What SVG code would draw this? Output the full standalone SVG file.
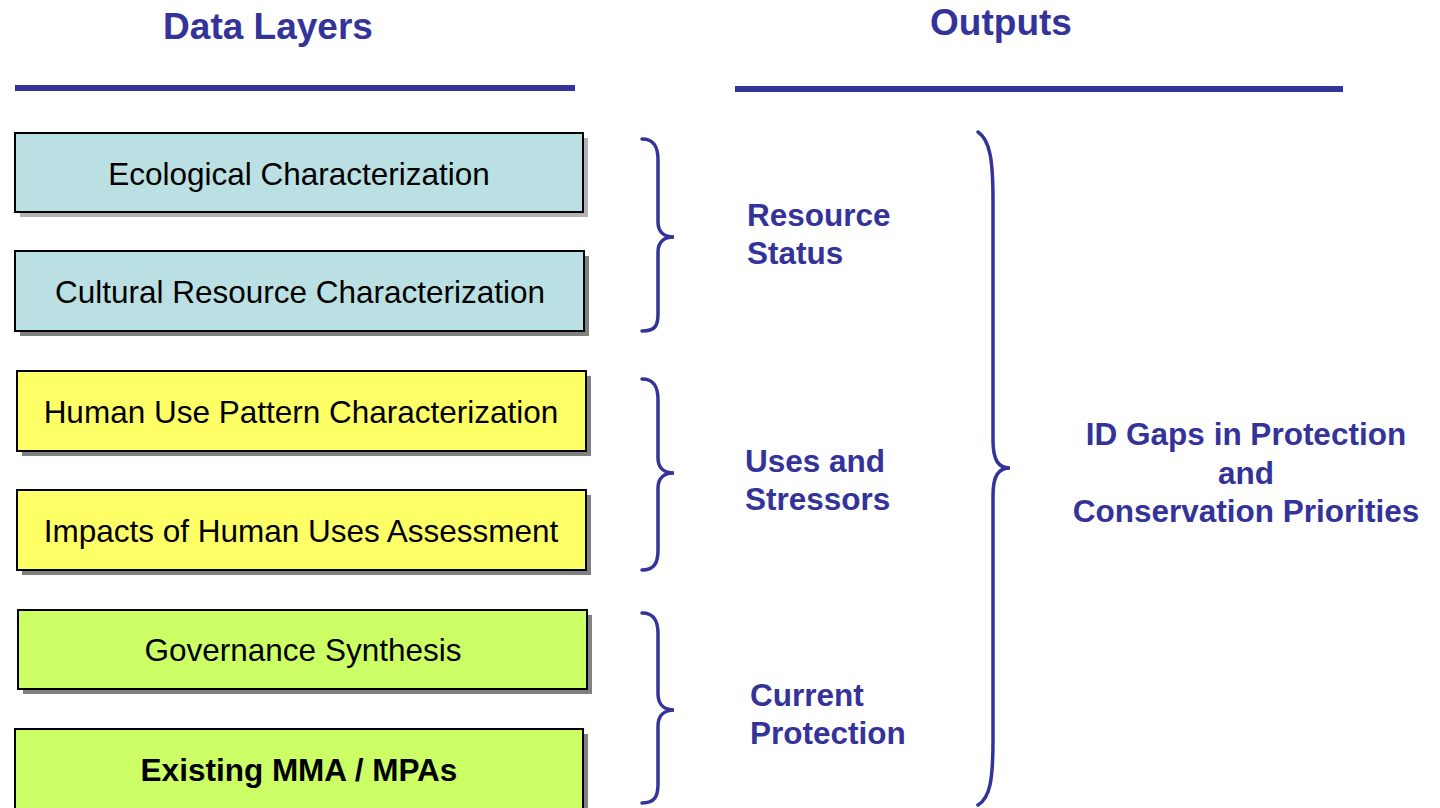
<svg xmlns="http://www.w3.org/2000/svg" width="1440" height="808" viewBox="0 0 1440 808">
<defs>
<style>
.hdr{font-family:"Liberation Sans",Arial,sans-serif;font-weight:bold;font-size:37px;fill:#333399}
.lbl{font-family:"Liberation Sans",Arial,sans-serif;font-weight:bold;font-size:31.5px;fill:#333399}
.bt{font-family:"Liberation Sans",Arial,sans-serif;font-size:31.5px;fill:#000;text-anchor:middle}
.box{stroke:#000;stroke-width:2}
.sh{fill:#808080}
.br{fill:none;stroke:#333399;stroke-width:3.5;stroke-linecap:round}
.teal{fill:#BAE0E3}
.yel{fill:#FFFF66}
.grn{fill:#CCFF66}
</style>
</defs>
<rect width="1440" height="808" fill="#fff"/>
<text class="hdr" x="268" y="39" text-anchor="middle">Data Layers</text>
<text class="hdr" x="1001" y="35" text-anchor="middle">Outputs</text>
<rect x="15" y="85" width="560" height="6" fill="#333399"/>
<rect x="735" y="86" width="608" height="6" fill="#333399"/>

<g id="n1"><rect class="sh" x="20" y="138" width="568" height="79" fill-opacity="0.6"/><rect class="box teal" x="15" y="133" width="568" height="79"/><text class="bt" x="299" y="185">Ecological Characterization</text></g>
<g id="n2"><rect class="sh" x="20" y="256" width="569" height="80"/><rect class="box teal" x="15" y="251" width="569" height="80"/><text class="bt" x="300" y="303">Cultural Resource Characterization</text></g>
<g id="n3"><rect class="sh" x="22" y="376" width="569" height="80"/><rect class="box yel" x="17" y="371" width="569" height="80"/><text class="bt" x="301" y="423">Human Use Pattern Characterization</text></g>
<g id="n4"><rect class="sh" x="22" y="495" width="569" height="80"/><rect class="box yel" x="17" y="490" width="569" height="80"/><text class="bt" x="301" y="542">Impacts of Human Uses Assessment</text></g>
<g id="n5"><rect class="sh" x="23" y="615" width="569" height="79"/><rect class="box grn" x="18" y="610" width="569" height="79"/><text class="bt" x="303" y="661">Governance Synthesis</text></g>
<g id="n6"><rect class="sh" x="20" y="734" width="568" height="90"/><rect class="box grn" x="15" y="729" width="568" height="90"/><text class="bt" x="299" y="781" font-weight="bold">Existing MMA / MPAs</text></g>

<g id="connectors">
<path class="br" d="M642,139 C655,139 658,148 658,160 L658,222 C658,232 664,237 674,237 C664,237 658,242 658,252 L658,314 C658,326 655,331 642,331"/>
<path class="br" d="M642,379 C655,379 658,388 658,400 L658,458 C658,468 664,473 674,473 C664,473 658,478 658,488 L658,550 C658,562 655,570 642,570"/>
<path class="br" d="M642,613 C655,613 658,622 658,634 L658,694 C658,704 664,710 674,710 C664,710 658,716 658,726 L658,784 C658,796 655,803 642,803"/>
<path class="br" d="M978,132 C990,140 993,160 993,200 L993,440 C993,460 998,468 1010,468 C998,468 993,476 993,496 L993,740 C993,780 990,798 978,805"/>
</g>

<g id="out1"><text class="lbl" x="747" y="226">Resource</text><text class="lbl" x="747" y="264">Status</text></g>
<g id="out2"><text class="lbl" x="745" y="472">Uses and</text><text class="lbl" x="745" y="510">Stressors</text></g>
<g id="out3"><text class="lbl" x="750" y="706">Current</text><text class="lbl" x="750" y="744">Protection</text></g>
<g id="out4" text-anchor="middle"><text class="lbl" x="1246" y="445">ID Gaps in Protection</text><text class="lbl" x="1246" y="484">and</text><text class="lbl" x="1246" y="522">Conservation Priorities</text></g>
</svg>
